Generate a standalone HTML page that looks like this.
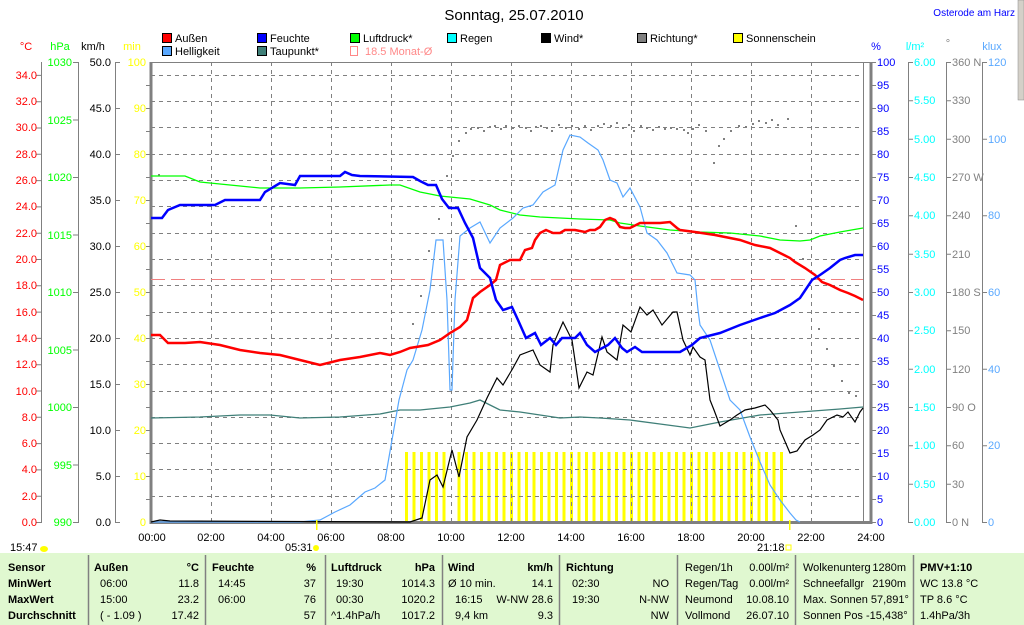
<!DOCTYPE html>
<html><head><meta charset="utf-8"><style>
html,body{margin:0;padding:0;background:#fff;width:1024px;height:625px;overflow:hidden}
svg{display:block}
text{font-family:"Liberation Sans",sans-serif;font-size:11px}
</style></head><body>
<svg width="1024" height="625" viewBox="0 0 1024 625" xmlns="http://www.w3.org/2000/svg">
<defs>
<pattern id="sb" patternUnits="userSpaceOnUse" x="405" y="452" width="7.5" height="70"><rect x="0" y="0" width="3" height="70" fill="#ff0"/></pattern>
</defs>
<rect x="1018" y="0" width="6" height="100" fill="#d4d0c8" stroke="#888" stroke-width="0.5"/>
<text x="514" y="20" text-anchor="middle" style="font-size:15px" fill="#000">Sonntag, 25.07.2010</text>
<text x="1015" y="16" text-anchor="end" style="font-size:10px" fill="#00f">Osterode am Harz</text>

<g stroke="#000" stroke-width="1">
<rect x="162.5" y="33.5" width="9" height="9" fill="#f00"/>
<rect x="257.5" y="33.5" width="9" height="9" fill="#00f"/>
<rect x="350.5" y="33.5" width="9" height="9" fill="#0f0"/>
<rect x="447.5" y="33.5" width="9" height="9" fill="#0ff"/>
<rect x="541.5" y="33.5" width="9" height="9" fill="#000"/>
<rect x="637.5" y="33.5" width="9" height="9" fill="#808080"/>
<rect x="733.5" y="33.5" width="9" height="9" fill="#ff0"/>
<rect x="162.5" y="46.5" width="9" height="9" fill="#59a8ff"/>
<rect x="257.5" y="46.5" width="9" height="9" fill="#3f7f78"/>
</g>
<rect x="350.5" y="46.5" width="7" height="9" fill="none" stroke="#f88"/>
<g fill="#000">
<text x="175" y="42">Außen</text><text x="270" y="42">Feuchte</text><text x="363" y="42">Luftdruck*</text>
<text x="460" y="42">Regen</text><text x="554" y="42">Wind*</text><text x="650" y="42">Richtung*</text>
<text x="746" y="42">Sonnenschein</text><text x="175" y="55">Helligkeit</text><text x="270" y="55">Taupunkt*</text>
</g>
<text x="365" y="55" fill="#f88">18.5 Monat-Ø</text>

<text x="26" y="50" text-anchor="middle" fill="#f00">°C</text>
<text x="60" y="50" text-anchor="middle" fill="#0f0">hPa</text>
<text x="93" y="50" text-anchor="middle" fill="#000">km/h</text>
<text x="132" y="50" text-anchor="middle" fill="#ff0">min</text>
<text x="876" y="50" text-anchor="middle" fill="#00f">%</text>
<text x="915" y="50" text-anchor="middle" fill="#0ff">l/m²</text>
<text x="948" y="47" text-anchor="middle" fill="#808080">°</text>
<text x="992" y="50" text-anchor="middle" fill="#59a8ff">klux</text>

<!-- sunshine bars -->
<rect x="405" y="452" width="378" height="70" fill="url(#sb)"/>
<rect x="449.5" y="452" width="4" height="70" fill="#fff"/>

<g stroke="#808080" stroke-dasharray="4,4" stroke-width="1">
<path d="M151 75.5H863M151 101.5H863M151 127.5H863M151 154.5H863M151 180.5H863M151 206.5H863M151 233.5H863M151 259.5H863M151 285.5H863M151 312.5H863M151 338.5H863M151 364.5H863M151 391.5H863M151 417.5H863M151 443.5H863M151 469.5H863M151 496.5H863"/>
<path d="M211.5 62V522M271.5 62V522M331.5 62V522M391.5 62V522M451.5 62V522M511.5 62V522M571.5 62V522M631.5 62V522M691.5 62V522M751.5 62V522M811.5 62V522"/>
</g>

<g stroke="#808080" fill="none">
<path d="M41.5 62V522M78.5 62V522M115.5 62V522M908.5 62V522M946.5 62V522M982.5 62V522M863.5 62V522"/>
<path d="M151 62V524" stroke-width="3"/>
<path d="M871 62V524" stroke-width="3"/>
<path d="M151 522.5H871" stroke-width="3"/>
<path d="M151 62.5H871" stroke-width="1"/>
</g>

<g stroke="#808080">
<path d="M36 522.5h6M36 496.2h6M36 469.9h6M36 443.6h6M36 417.3h6M36 391h6M36 364.7h6M36 338.4h6M36 312.1h6M36 285.8h6M36 259.5h6M36 233.2h6M36 206.9h6M36 180.6h6M36 154.3h6M36 128h6M36 101.7h6M36 75.4h6"/>
<path d="M73 62.5h6M73 120h6M73 177.5h6M73 235h6M73 292.5h6M73 350h6M73 407.5h6M73 465h6M73 522.5h6"/>
<path d="M115 62.5h5M115 108.5h5M115 154.5h5M115 200.5h5M115 246.5h5M115 292.5h5M115 338.5h5M115 384.5h5M115 430.5h5M115 476.5h5M115 522.5h5"/>
<path d="M908 62.5h5M908 100.8h5M908 139.2h5M908 177.5h5M908 215.8h5M908 254.2h5M908 292.5h5M908 330.8h5M908 369.2h5M908 407.5h5M908 445.8h5M908 484.2h5M908 522.5h5"/>
<path d="M946 62.5h5M946 100.8h5M946 139.2h5M946 177.5h5M946 215.8h5M946 254.2h5M946 292.5h5M946 330.8h5M946 369.2h5M946 407.5h5M946 445.8h5M946 484.2h5M946 522.5h5"/>
<path d="M982 62.5h5M982 139.2h5M982 215.8h5M982 292.5h5M982 369.2h5M982 445.8h5M982 522.5h5"/>
</g>

<g fill="#f00" text-anchor="end">
<text x="37" y="79">34.0</text><text x="37" y="105">32.0</text><text x="37" y="131">30.0</text><text x="37" y="158">28.0</text><text x="37" y="184">26.0</text><text x="37" y="210">24.0</text><text x="37" y="237">22.0</text><text x="37" y="263">20.0</text><text x="37" y="289">18.0</text><text x="37" y="316">16.0</text><text x="37" y="342">14.0</text><text x="37" y="368">12.0</text><text x="37" y="395">10.0</text><text x="37" y="421">8.0</text><text x="37" y="447">6.0</text><text x="37" y="473">4.0</text><text x="37" y="500">2.0</text><text x="37" y="526">0.0</text>
</g>
<g fill="#0f0" text-anchor="end">
<text x="72" y="66">1030</text><text x="72" y="124">1025</text><text x="72" y="181">1020</text><text x="72" y="239">1015</text><text x="72" y="296">1010</text><text x="72" y="354">1005</text><text x="72" y="411">1000</text><text x="72" y="469">995</text><text x="72" y="526">990</text>
</g>
<g fill="#000" text-anchor="end">
<text x="111" y="66">50.0</text><text x="111" y="112">45.0</text><text x="111" y="158">40.0</text><text x="111" y="204">35.0</text><text x="111" y="250">30.0</text><text x="111" y="296">25.0</text><text x="111" y="342">20.0</text><text x="111" y="388">15.0</text><text x="111" y="434">10.0</text><text x="111" y="480">5.0</text><text x="111" y="526">0.0</text>
</g>
<g fill="#ff0" text-anchor="end">
<text x="146" y="66">100</text><text x="146" y="112">90</text><text x="146" y="158">80</text><text x="146" y="204">70</text><text x="146" y="250">60</text><text x="146" y="296">50</text><text x="146" y="342">40</text><text x="146" y="388">30</text><text x="146" y="434">20</text><text x="146" y="480">10</text><text x="146" y="526">0</text>
</g>
<g stroke="#808080"><path d="M146 108.5h5M146 154.5h5M146 200.5h5M146 246.5h5M146 292.5h5M146 338.5h5M146 384.5h5M146 430.5h5M146 476.5h5M146 85.5h5M146 131.5h5M146 177.5h5M146 223.5h5M146 269.5h5M146 315.5h5M146 361.5h5M146 407.5h5M146 453.5h5M146 499.5h5"/>
<path d="M871 62.5h5M871 85.5h5M871 108.5h5M871 131.5h5M871 154.5h5M871 177.5h5M871 200.5h5M871 223.5h5M871 246.5h5M871 269.5h5M871 292.5h5M871 315.5h5M871 338.5h5M871 361.5h5M871 384.5h5M871 407.5h5M871 430.5h5M871 453.5h5M871 476.5h5M871 499.5h5M871 522.5h5"/></g>
<g fill="#00f">
<text x="877" y="66">100</text><text x="877" y="89">95</text><text x="877" y="112">90</text><text x="877" y="135">85</text><text x="877" y="158">80</text><text x="877" y="181">75</text><text x="877" y="204">70</text><text x="877" y="227">65</text><text x="877" y="250">60</text><text x="877" y="273">55</text><text x="877" y="296">50</text><text x="877" y="319">45</text><text x="877" y="342">40</text><text x="877" y="365">35</text><text x="877" y="388">30</text><text x="877" y="411">25</text><text x="877" y="434">20</text><text x="877" y="457">15</text><text x="877" y="480">10</text><text x="877" y="503">5</text><text x="877" y="526">0</text>
</g>
<g fill="#0ff">
<text x="914" y="66">6.00</text><text x="914" y="104">5.50</text><text x="914" y="143">5.00</text><text x="914" y="181">4.50</text><text x="914" y="219">4.00</text><text x="914" y="258">3.50</text><text x="914" y="296">3.00</text><text x="914" y="334">2.50</text><text x="914" y="373">2.00</text><text x="914" y="411">1.50</text><text x="914" y="449">1.00</text><text x="914" y="488">0.50</text><text x="914" y="526">0.00</text>
</g>
<g fill="#808080">
<text x="952" y="66">360 N</text><text x="952" y="104">330</text><text x="952" y="143">300</text><text x="952" y="181">270 W</text><text x="952" y="219">240</text><text x="952" y="258">210</text><text x="952" y="296">180 S</text><text x="952" y="334">150</text><text x="952" y="373">120</text><text x="952" y="411">90  O</text><text x="952" y="449">60</text><text x="952" y="488">30</text><text x="952" y="526">0   N</text>
</g>
<g fill="#59a8ff">
<text x="988" y="66">120</text><text x="988" y="143">100</text><text x="988" y="219">80</text><text x="988" y="296">60</text><text x="988" y="373">40</text><text x="988" y="449">20</text><text x="988" y="526">0</text>
</g>

<path d="M151 279.5H863" stroke="#f08080" stroke-dasharray="14,6" fill="none"/>

<!-- direction dots -->
<path fill="#808080" d="M158 174h2v2h-2zM412 323h2v2h-2zM420 295h2v2h-2zM428 250h2v2h-2zM438 218h2v2h-2zM446 175h2v2h-2zM452 155h2v2h-2zM458 140h2v2h-2zM465 132h2v2h-2zM470 128h2v2h-2zM477 127h2v2h-2zM483 130h2v2h-2zM489 126h2v2h-2zM494 125h2v2h-2zM500 128h2v2h-2zM505 125h2v2h-2zM512 127h2v2h-2zM518 125h2v2h-2zM525 127h2v2h-2zM530 130h2v2h-2zM535 126h2v2h-2zM540 125h2v2h-2zM546 127h2v2h-2zM551 130h2v2h-2zM558 124h2v2h-2zM565 127h2v2h-2zM571 125h2v2h-2zM578 128h2v2h-2zM584 125h2v2h-2zM590 129h2v2h-2zM597 125h2v2h-2zM603 123h2v2h-2zM610 125h2v2h-2zM616 122h2v2h-2zM622 127h2v2h-2zM628 124h2v2h-2zM633 130h2v2h-2zM640 125h2v2h-2zM646 127h2v2h-2zM652 129h2v2h-2zM658 126h2v2h-2zM664 128h2v2h-2zM670 127h2v2h-2zM676 128h2v2h-2zM683 129h2v2h-2zM687 132h2v2h-2zM692 128h2v2h-2zM698 124h2v2h-2zM705 130h2v2h-2zM713 162h2v2h-2zM718 145h2v2h-2zM723 138h2v2h-2zM730 130h2v2h-2zM738 125h2v2h-2zM745 126h2v2h-2zM752 123h2v2h-2zM758 120h2v2h-2zM765 122h2v2h-2zM771 119h2v2h-2zM777 124h2v2h-2zM787 118h2v2h-2zM795 225h2v2h-2zM802 258h2v2h-2zM818 328h2v2h-2zM826 348h2v2h-2zM833 365h2v2h-2zM841 380h2v2h-2zM848 392h2v2h-2zM855 395h2v2h-2z"/>

<polyline fill="none" stroke="#3f7f78" stroke-width="1.3" points="151,418 200,417 240,415 270,415 300,418 340,417 380,414 400,410 420,410 450,407 470,403 480,400 490,405 500,410 520,412 540,415 560,418 580,417 600,418 630,420 660,424 690,428 720,422 760,415 800,412 840,409 863,407"/>
<polyline fill="none" stroke="#0f0" stroke-width="1.3" points="151,176 185,176 200,182 220,184 240,186 260,188 300,188 340,187 390,185 400,185 420,192 440,196 470,199 490,205 500,210 520,215 540,217 580,219 610,220 620,223 640,226 670,230 700,232 730,233 760,236 780,240 800,241 810,240 820,236 840,232 863,228"/>
<polyline fill="none" stroke="#59a8ff" stroke-width="1.2" points="151,522 300,522 320,520 335,512 350,505 365,492 375,488 385,480 392,440 399,400 407,370 413,360 422,330 430,290 436,240 443,240 447,300 450,390 452,390 455,300 460,236 470,228 480,222 490,243 500,228 513,218 523,208 533,205 543,192 555,185 563,150 570,135 580,137 588,143 598,150 603,160 610,180 617,183 623,197 630,188 640,207 647,233 657,240 667,253 677,273 690,275 695,280 698,310 700,325 710,340 720,370 730,400 740,410 750,437 760,462 770,485 780,500 790,513 796,520 800,522"/>
<polyline fill="none" stroke="#000" stroke-width="1.2" points="151,522 160,520 170,521 410,522 422,518 430,480 437,475 443,487 452,450 459,477 467,437 477,420 487,398 497,378 503,385 513,368 520,355 533,350 540,365 550,372 553,345 563,322 572,340 579,388 587,372 593,375 602,337 607,352 617,360 623,325 631,332 640,307 647,315 653,310 662,325 673,312 677,312 680,326 683,340 690,355 693,347 700,357 705,360 710,400 714,410 720,426 730,420 737,415 745,410 755,408 765,405 770,410 778,420 780,430 790,453 797,451 805,440 813,435 820,430 827,420 837,415 843,417 848,412 855,422 860,412 863,408"/>
<polyline fill="none" stroke="#f00" stroke-width="2.5" points="151,335 160,335 168,343 185,343 200,342 220,345 240,350 260,353 280,355 300,360 320,365 340,360 360,357 380,353 390,355 400,352 410,348 428,345 440,340 450,333 460,327 467,320 473,298 480,292 490,285 496,280 500,265 510,260 520,260 525,250 532,248 535,240 540,233 546,230 553,233 560,233 565,230 575,230 585,232 590,230 595,230 600,227 605,220 610,218 615,220 620,227 625,228 630,228 640,223 660,223 670,222 677,228 680,230 695,232 715,235 740,240 755,245 770,248 780,253 790,258 795,262 805,268 815,275 822,282 830,285 840,290 848,293 855,296 863,300"/>
<polyline fill="none" stroke="#00f" stroke-width="2.5" points="151,218 162,218 168,210 180,205 215,205 225,200 260,200 265,192 280,183 295,185 300,176 340,176 345,172 352,175 360,176 413,177 420,181 428,185 436,185 442,199 449,208 458,208 465,223 473,238 480,268 490,278 496,300 503,310 512,307 518,320 526,338 535,333 541,345 550,338 556,345 562,338 575,338 580,333 587,345 595,352 608,345 615,338 622,348 627,352 635,347 642,352 680,352 692,345 700,338 720,333 740,325 760,318 775,313 790,305 800,298 812,280 820,275 830,268 840,260 845,258 855,255 863,255"/>

<g fill="#000" text-anchor="middle">
<text x="152" y="541">00:00</text><text x="211" y="541">02:00</text><text x="271" y="541">04:00</text><text x="331" y="541">06:00</text><text x="391" y="541">08:00</text><text x="451" y="541">10:00</text><text x="511" y="541">12:00</text><text x="571" y="541">14:00</text><text x="631" y="541">16:00</text><text x="691" y="541">18:00</text><text x="751" y="541">20:00</text><text x="811" y="541">22:00</text><text x="871" y="541">24:00</text>
</g>
<text x="10" y="551" fill="#000">15:47</text><ellipse cx="44" cy="549" rx="4" ry="3" fill="#ff0"/>
<text x="285" y="551" fill="#000">05:31</text><circle cx="316" cy="548" r="3" fill="#ff0"/>
<text x="757" y="551" fill="#000">21:18</text><rect x="786" y="545" width="5" height="5" fill="none" stroke="#ff0"/>
<rect x="316" y="520" width="1.5" height="10" fill="#ff0"/><rect x="789" y="520" width="1.5" height="10" fill="#ff0"/>

<rect x="0" y="553" width="1024" height="72" fill="#e0f8d0"/>
<g stroke="#808080" stroke-width="1.5">
<path d="M88.5 555V625M205.5 555V625M325.5 555V625M442.5 555V625M559.5 555V625M677.5 555V625M795.5 555V625M913.5 555V625"/>
</g>
<g fill="#000">
<text x="8" y="571" style="font-weight:bold">Sensor</text><text x="8" y="587" style="font-weight:bold">MinWert</text><text x="8" y="603" style="font-weight:bold">MaxWert</text><text x="8" y="619" style="font-weight:bold">Durchschnitt</text>
<text x="94" y="571" style="font-weight:bold">Außen</text><text x="199" y="571" text-anchor="end" style="font-weight:bold">°C</text>
<text x="212" y="571" style="font-weight:bold">Feuchte</text><text x="316" y="571" text-anchor="end" style="font-weight:bold">%</text>
<text x="331" y="571" style="font-weight:bold">Luftdruck</text><text x="435" y="571" text-anchor="end" style="font-weight:bold">hPa</text>
<text x="448" y="571" style="font-weight:bold">Wind</text><text x="553" y="571" text-anchor="end" style="font-weight:bold">km/h</text>
<text x="566" y="571" style="font-weight:bold">Richtung</text>
<text x="920" y="571" style="font-weight:bold">PMV+1:10</text>
<text x="100" y="587">06:00</text><text x="199" y="587" text-anchor="end">11.8</text>
<text x="100" y="603">15:00</text><text x="199" y="603" text-anchor="end">23.2</text>
<text x="100" y="619">( - 1.09 )</text><text x="199" y="619" text-anchor="end">17.42</text>
<text x="218" y="587">14:45</text><text x="316" y="587" text-anchor="end">37</text>
<text x="218" y="603">06:00</text><text x="316" y="603" text-anchor="end">76</text>
<text x="316" y="619" text-anchor="end">57</text>
<text x="336" y="587">19:30</text><text x="435" y="587" text-anchor="end">1014.3</text>
<text x="336" y="603">00:30</text><text x="435" y="603" text-anchor="end">1020.2</text>
<text x="331" y="619">^1.4hPa/h</text><text x="435" y="619" text-anchor="end">1017.2</text>
<text x="448" y="587">Ø 10 min.</text><text x="553" y="587" text-anchor="end">14.1</text>
<text x="455" y="603">16:15</text><text x="553" y="603" text-anchor="end">W-NW 28.6</text>
<text x="455" y="619">9,4 km</text><text x="553" y="619" text-anchor="end">9.3</text>
<text x="572" y="587">02:30</text><text x="669" y="587" text-anchor="end">NO</text>
<text x="572" y="603">19:30</text><text x="669" y="603" text-anchor="end">N-NW</text>
<text x="669" y="619" text-anchor="end">NW</text>
<text x="685" y="571">Regen/1h</text><text x="789" y="571" text-anchor="end">0.00l/m²</text>
<text x="685" y="587">Regen/Tag</text><text x="789" y="587" text-anchor="end">0.00l/m²</text>
<text x="685" y="603">Neumond</text><text x="789" y="603" text-anchor="end">10.08.10</text>
<text x="685" y="619">Vollmond</text><text x="789" y="619" text-anchor="end">26.07.10</text>
<text x="803" y="571">Wolkenunterg</text><text x="906" y="571" text-anchor="end">1280m</text>
<text x="803" y="587">Schneefallgr</text><text x="906" y="587" text-anchor="end">2190m</text>
<text x="803" y="603">Max. Sonnen 57,891°</text>
<text x="803" y="619">Sonnen Pos  -15,438°</text>
<text x="920" y="587">WC 13.8 °C</text>
<text x="920" y="603">TP 8.6 °C</text>
<text x="920" y="619">1.4hPa/3h</text>
</g>
</svg>
</body></html>
